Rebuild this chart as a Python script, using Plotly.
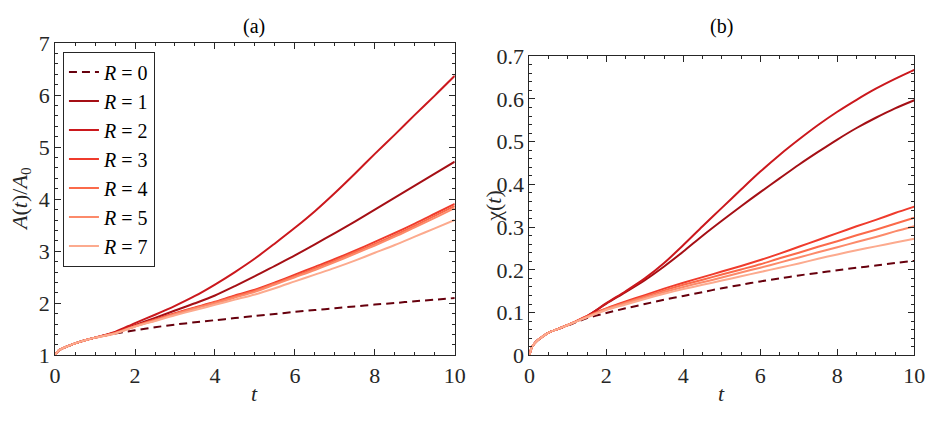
import plotly.graph_objects as go

# ---------------- data ----------------
t = [0, 0.05, 0.1, 0.2, 0.3, 0.5, 0.75, 1, 1.5, 2, 2.5, 3, 3.5, 4, 4.5, 5,
     5.5, 6, 6.5, 7, 7.5, 8, 8.5, 9, 9.5, 10]

labels = ["R = 0", "R = 1", "R = 2", "R = 3", "R = 4", "R = 5", "R = 7"]
colors = ["#67000d", "#a50f15", "#cb181d", "#ef3b2c", "#fb6a4a", "#fc8a6a", "#fcaa8e"]

# panel (a): A(t)/A0
A_R0 = [1, 1.06, 1.10, 1.14, 1.17, 1.23, 1.29, 1.34, 1.42, 1.48, 1.54, 1.59, 1.635, 1.675, 1.715,
        1.755, 1.795, 1.835, 1.87, 1.905, 1.94, 1.975, 2.005, 2.04, 2.07, 2.10]
A_R1 = [1, 1.06, 1.10, 1.14, 1.17, 1.23, 1.29, 1.34, 1.44, 1.58, 1.72, 1.86, 2.00, 2.15, 2.33,
        2.52, 2.72, 2.92, 3.13, 3.35, 3.57, 3.80, 4.03, 4.26, 4.49, 4.72]
A_R2 = [1, 1.06, 1.10, 1.14, 1.17, 1.23, 1.29, 1.34, 1.45, 1.62, 1.78, 1.95, 2.14, 2.36, 2.60,
        2.86, 3.15, 3.45, 3.77, 4.12, 4.49, 4.87, 5.24, 5.62, 5.99, 6.37]
A_R3 = [1, 1.06, 1.10, 1.14, 1.17, 1.23, 1.29, 1.34, 1.43, 1.57, 1.69, 1.81, 1.92, 2.03, 2.15,
        2.26, 2.40, 2.55, 2.70, 2.85, 3.01, 3.18, 3.35, 3.53, 3.72, 3.91]
A_R4 = [1, 1.06, 1.10, 1.14, 1.17, 1.23, 1.29, 1.34, 1.43, 1.56, 1.68, 1.80, 1.91, 2.02, 2.13,
        2.24, 2.38, 2.52, 2.67, 2.82, 2.98, 3.14, 3.31, 3.49, 3.68, 3.87]
A_R5 = [1, 1.06, 1.10, 1.14, 1.17, 1.23, 1.29, 1.34, 1.42, 1.56, 1.67, 1.79, 1.90, 2.00, 2.11,
        2.22, 2.36, 2.50, 2.64, 2.79, 2.95, 3.11, 3.28, 3.46, 3.64, 3.83]
A_R7 = [1, 1.06, 1.10, 1.14, 1.17, 1.23, 1.29, 1.34, 1.42, 1.55, 1.66, 1.77, 1.87, 1.97, 2.07,
        2.17, 2.29, 2.42, 2.55, 2.68, 2.82, 2.97, 3.12, 3.28, 3.44, 3.60]

# panel (b): chi(t)
C_R0 = [0, 0.016, 0.024, 0.034, 0.041, 0.053, 0.062, 0.070, 0.087, 0.099, 0.110, 0.120, 0.130, 0.139, 0.148,
        0.157, 0.165, 0.173, 0.180, 0.187, 0.193, 0.199, 0.205, 0.210, 0.216, 0.221]
C_R1 = [0, 0.016, 0.024, 0.034, 0.041, 0.053, 0.062, 0.071, 0.092, 0.121, 0.148, 0.176, 0.208, 0.243, 0.280,
        0.315, 0.349, 0.382, 0.414, 0.446, 0.476, 0.505, 0.532, 0.556, 0.578, 0.597]
C_R2 = [0, 0.016, 0.024, 0.034, 0.041, 0.053, 0.062, 0.071, 0.092, 0.122, 0.150, 0.180, 0.216, 0.258, 0.302,
        0.345, 0.388, 0.430, 0.469, 0.505, 0.539, 0.570, 0.598, 0.624, 0.647, 0.668]
C_R3 = [0, 0.016, 0.024, 0.034, 0.041, 0.053, 0.062, 0.071, 0.092, 0.110, 0.126, 0.141, 0.156, 0.170, 0.183,
        0.196, 0.209, 0.223, 0.238, 0.254, 0.270, 0.286, 0.302, 0.317, 0.333, 0.348]
C_R4 = [0, 0.016, 0.024, 0.034, 0.041, 0.053, 0.062, 0.071, 0.091, 0.109, 0.124, 0.138, 0.152, 0.165, 0.177,
        0.189, 0.201, 0.213, 0.227, 0.240, 0.254, 0.267, 0.281, 0.294, 0.308, 0.322]
C_R5 = [0, 0.016, 0.024, 0.034, 0.041, 0.053, 0.062, 0.071, 0.090, 0.108, 0.122, 0.135, 0.148, 0.160, 0.171,
        0.182, 0.194, 0.205, 0.217, 0.229, 0.241, 0.253, 0.265, 0.277, 0.290, 0.302]
C_R7 = [0, 0.016, 0.024, 0.034, 0.041, 0.053, 0.062, 0.071, 0.089, 0.106, 0.119, 0.132, 0.144, 0.155, 0.165,
        0.175, 0.185, 0.195, 0.205, 0.215, 0.226, 0.236, 0.246, 0.255, 0.264, 0.273]

A_series = [A_R0, A_R1, A_R2, A_R3, A_R4, A_R5, A_R7]
C_series = [C_R0, C_R1, C_R2, C_R3, C_R4, C_R5, C_R7]

x_ticks = [0, 2, 4, 6, 8, 10]
ya_ticks = [1, 2, 3, 4, 5, 6, 7]
yb_ticks = [0, 0.1, 0.2, 0.3, 0.4, 0.5, 0.6, 0.7]
yb_ticktext = ["0", "0.1", "0.2", "0.3", "0.4", "0.5", "0.6", "0.7"]

# ---------------- figure ----------------
W, H = 942, 421
FONT = "Liberation Serif"
AX = "#262626"

fig = go.Figure()

def legend_name(s):
    r, v = s.split(" = ")
    return f"<i>{r}</i> = {v}"

for i, (lab, col) in enumerate(zip(labels, colors)):
    dash = "8px,5px" if i == 0 else "solid"
    fig.add_trace(go.Scatter(x=t, y=A_series[i], mode="lines", name=legend_name(lab),
                             line=dict(color=col, width=2, dash=dash, shape="spline", smoothing=0.8),
                             xaxis="x", yaxis="y", showlegend=True))
for i, (lab, col) in enumerate(zip(labels, colors)):
    dash = "8px,5px" if i == 0 else "solid"
    fig.add_trace(go.Scatter(x=t, y=C_series[i], mode="lines", name=legend_name(lab),
                             line=dict(color=col, width=2, dash=dash, shape="spline", smoothing=0.8),
                             xaxis="x2", yaxis="y2", showlegend=False))

def px_x(p):
    return p / W

def px_y(p):
    return 1 - p / H

ax_common = dict(showline=True, linecolor=AX, linewidth=1, mirror="allticks",
                 ticks="inside", ticklen=6, tickcolor=AX, tickwidth=1,
                 showgrid=False, zeroline=False,
                 tickfont=dict(family=FONT, size=22, color=AX))

fig.update_layout(
    width=W, height=H,
    margin=dict(l=0, r=0, t=0, b=0),
    paper_bgcolor="white", plot_bgcolor="white",
    font=dict(family=FONT, color=AX),
    xaxis=dict(domain=[px_x(50), px_x(457)], range=[0, 10], tickvals=x_ticks, anchor="y",
               minor=dict(dtick=0.5, ticks="inside", ticklen=3, tickcolor=AX), **ax_common),
    yaxis=dict(domain=[px_y(365), px_y(33)], range=[1, 7], tickvals=ya_ticks, anchor="x",
               minor=dict(dtick=0.2, ticks="inside", ticklen=3, tickcolor=AX), **ax_common),
    xaxis2=dict(domain=[px_x(533), px_x(925)], range=[0, 10], tickvals=x_ticks, anchor="y2",
                minor=dict(dtick=0.5, ticks="inside", ticklen=3, tickcolor=AX), **ax_common),
    yaxis2=dict(domain=[px_y(365), px_y(47)], range=[0, 0.7], tickvals=yb_ticks, ticktext=yb_ticktext,
                anchor="x2", minor=dict(dtick=0.02, ticks="inside", ticklen=3, tickcolor=AX), **ax_common),
    legend=dict(x=px_x(58), y=px_y(42), xanchor="left", yanchor="top",
                bgcolor="white", bordercolor=AX, borderwidth=1,
                font=dict(family=FONT, size=20, color="#000000"),
                tracegroupgap=0, itemwidth=30),
    showlegend=True,
)

ann = [
    dict(text="(a)", x=px_x(253), y=px_y(15), xref="paper", yref="paper", showarrow=False,
         font=dict(family=FONT, size=20, color="#000000"), xanchor="center", yanchor="middle"),
    dict(text="(b)", x=px_x(729), y=px_y(15), xref="paper", yref="paper", showarrow=False,
         font=dict(family=FONT, size=20, color="#000000"), xanchor="center", yanchor="middle"),
    dict(text="<i>t</i>", x=px_x(253), y=px_y(406), xref="paper", yref="paper", showarrow=False,
         font=dict(family=FONT, size=22, color=AX), xanchor="center", yanchor="middle"),
    dict(text="<i>t</i>", x=px_x(729), y=px_y(406), xref="paper", yref="paper", showarrow=False,
         font=dict(family=FONT, size=22, color=AX), xanchor="center", yanchor="middle"),
    dict(text="<i>A</i>(<i>t</i>)/<i>A</i><sub>0</sub>", x=px_x(15), y=px_y(199), xref="paper", yref="paper",
         showarrow=False, textangle=-90,
         font=dict(family=FONT, size=22, color=AX), xanchor="center", yanchor="middle"),
    dict(text="χ(<i>t</i>)", x=px_x(497), y=px_y(206), xref="paper", yref="paper",
         showarrow=False, textangle=-90,
         font=dict(family=FONT, size=22, color=AX), xanchor="center", yanchor="middle"),
]
fig.update_layout(annotations=ann)

fig.write_html("out.html")
